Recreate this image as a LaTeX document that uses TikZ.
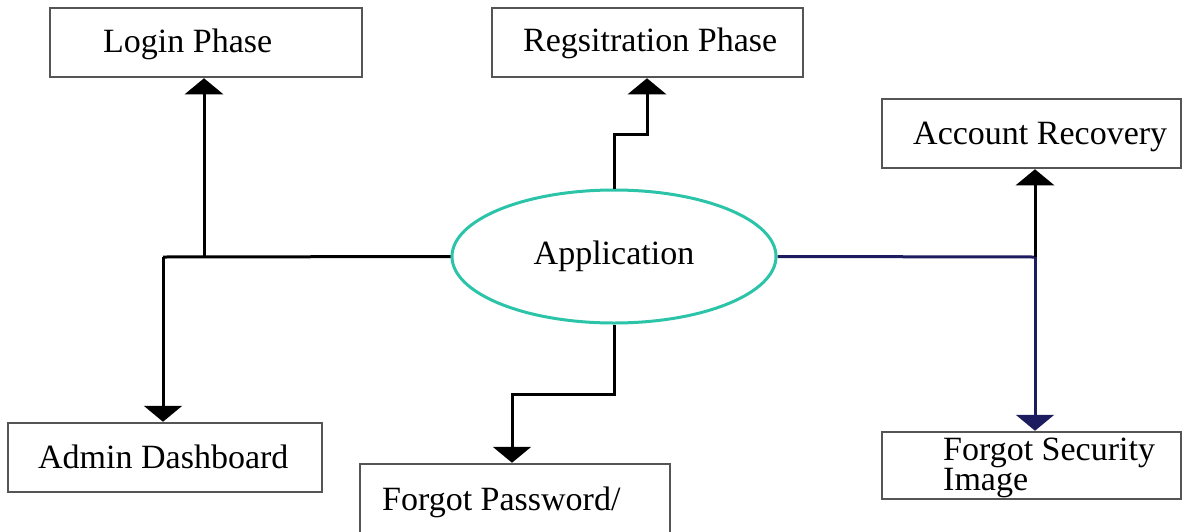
\documentclass[tikz,border=0pt]{standalone}
\usepackage{fontspec}
\setmainfont{Liberation Serif}
\usetikzlibrary{arrows.meta,shapes.geometric}

\definecolor{appteal}{HTML}{2CC4A8}
\definecolor{linknavy}{HTML}{1C1C5E}
\definecolor{boxgray}{HTML}{555555}

\begin{document}
\begin{tikzpicture}[x=1pt,y=-1pt,
    every node/.style={font=\fontsize{34}{30}\selectfont},
    phasebox/.style={draw=boxgray,line width=2.5pt,rectangle,inner sep=0pt},
    labeltext/.style={inner sep=0pt,anchor=base west,align=left},
    app/.style={draw=appteal,line width=3pt,ellipse,inner sep=0pt,
                minimum width=324pt,minimum height=133pt},
    link/.style={line width=3pt,black},
    navylink/.style={line width=3pt,linknavy},
    tip/.style={-{Triangle[width=38pt,length=16pt]}}]

  \useasboundingbox (0,0) rectangle (1184,531);
  \clip (0,0) rectangle (1184,531);

  % central node
  \node[app] (app) at (614,256.5) {Application};

  % surrounding boxes
  \node[phasebox,minimum width=312pt,minimum height=69pt] (login) at (206,42.5) {};
  \node[labeltext] (logintxt) at (103,52) {Login Phase};

  \node[phasebox,minimum width=311pt,minimum height=69pt] (reg) at (647.5,42.5) {};
  \node[labeltext] (regtxt) at (523,51) {Regsitration Phase};

  \node[phasebox,minimum width=299pt,minimum height=69pt] (acc) at (1031.5,133.5) {};
  \node[labeltext] (acctxt) at (913,144) {Account Recovery};

  \node[phasebox,minimum width=314pt,minimum height=69pt] (admin) at (165,457.5) {};
  \node[labeltext] (admintxt) at (38,468) {Admin Dashboard};

  \node[phasebox,minimum width=310pt,minimum height=80pt] (pwd) at (515,504) {};
  \node[labeltext] (pwdtxt) at (382,510) {Forgot Password/};

  \node[phasebox,minimum width=299pt,minimum height=67pt] (fsi) at (1031.5,465.5) {};
  % base anchor of a two-line node sits on its last line
  \node[labeltext] (fsitxt) at (943,490) {Forgot Security\\Image};

  % junction points
  \coordinate (jleft)  at (163,257);
  \coordinate (jlogin) at (204,257);
  \coordinate (jreg)   at (647,134);
  \coordinate (jpwd)   at (512,394);
  \coordinate (jright) at (1035,257);

  % left branch
  \draw[link] (app.west) -- (jleft);
  \draw[link,tip] (jlogin) -- (jlogin |- login.south);
  \draw[link,tip] (jleft) -- (jleft |- admin.north);

  % upper and lower branches
  \draw[link,tip] (app.north) |- (jreg) -- (jreg |- reg.south);
  \draw[link,tip] (app.south) |- (jpwd) -- (jpwd |- pwd.north);

  % right branch
  \draw[navylink] (app.east) -- (jright);
  \draw[link,tip] (jright) -- (jright |- acc.south);
  \draw[navylink,tip] (jright) -- (jright |- fsi.north);
\end{tikzpicture}
\end{document}
